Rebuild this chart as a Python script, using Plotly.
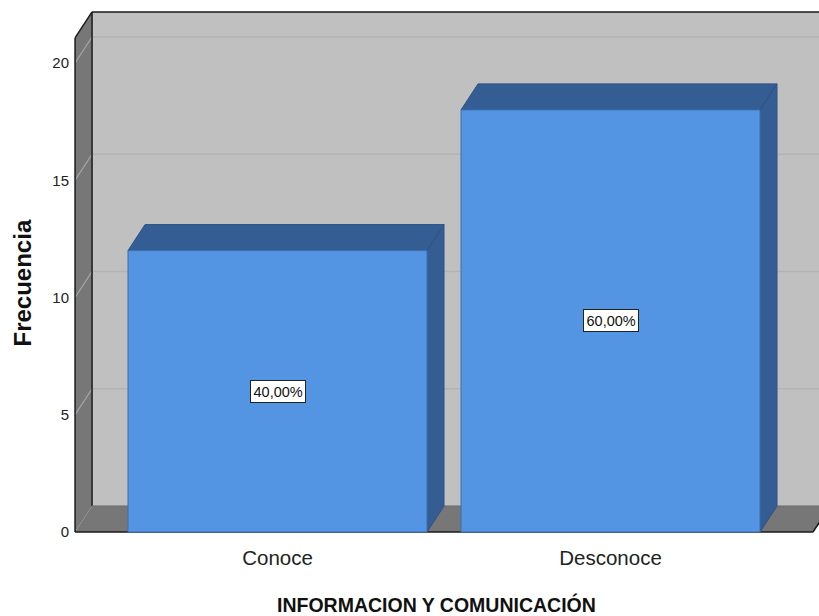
import plotly.graph_objects as go

# ---------------- data ----------------
categories = ["Conoce", "Desconoce"]
frecuencias = [12, 18]
y_ticks = [0, 5, 10, 15, 20]
x_title = "INFORMACION Y COMUNICACIÓN"
y_title = "Frecuencia"

total = sum(frecuencias)
pct_labels = [f"{v / total * 100:.2f}".replace(".", ",") + "%" for v in frecuencias]

# ---------------- geometry (pixels -> axis units) ----------------
W, H = 819, 616
ML, MR, MT, MB = 70, 0, 0, 80
PX_PER_CAT = 333.0
CAT0_PX = 277.5
ZERO_PX = 532
PX_PER_UNIT = 23.45

plot_h = H - MT - MB
x_range = [-(CAT0_PX - ML) / PX_PER_CAT, (W - MR - CAT0_PX) / PX_PER_CAT]
y_range = [-(MT + plot_h - ZERO_PX) / PX_PER_UNIT, (ZERO_PX - MT) / PX_PER_UNIT]

BAR_W = 299 / PX_PER_CAT
DX = 17 / PX_PER_CAT
DY = 26 / PX_PER_UNIT
PAD = 0.608
X0 = -PAD
X1 = len(categories) - 1 + PAD
YT = 21.07

WALL_SIDE = "#777777"
WALL_BACK = "#c0c0c0"
GRID_BACK = "#b3b3b3"
GRID_SIDE = "#a8a8a8"
BAR_FRONT = "#5394e3"
BAR_DARK = "#345e93"
BAR_EDGE = "#2c5283"
EDGE = "#1a1a1a"
NARROW = "Liberation Sans Narrow, Arial Narrow, Liberation Sans, Arial, sans-serif"


def poly(pts, fill, line_color=None, line_w=0, layer="below"):
    d = "M " + " L ".join(f"{x},{y}" for x, y in pts) + " Z"
    return dict(type="path", path=d, xref="x", yref="y", fillcolor=fill,
                line=dict(color=line_color or fill, width=line_w), layer=layer)


def seg(p, q, color, w=1, layer="below"):
    return dict(type="line", xref="x", yref="y", x0=p[0], y0=p[1], x1=q[0], y1=q[1],
                line=dict(color=color, width=w), layer=layer)


shapes = []
# back wall
shapes.append(poly([(X0 + DX, DY), (X1 + DX + 1, DY), (X1 + DX + 1, YT + DY), (X0 + DX, YT + DY)], WALL_BACK))
# left wall
shapes.append(poly([(X0, 0), (X0 + DX, DY), (X0 + DX, YT + DY), (X0, YT)], WALL_SIDE))
# floor
shapes.append(poly([(X0, 0), (X1, 0), (X1 + DX, DY), (X0 + DX, DY)], WALL_SIDE))
# grid lines
for t in y_ticks[1:]:
    shapes.append(seg((X0 + DX, t + DY), (X1 + DX + 1, t + DY), GRID_BACK, 1.5))
    shapes.append(seg((X0, t), (X0 + DX, t + DY), GRID_SIDE, 1.2))
# frame edges
shapes.append(seg((X0, 0), (X0, YT), EDGE, 1.5))
shapes.append(seg((X0, YT), (X0 + DX, YT + DY), EDGE, 1.5))
shapes.append(seg((X0 + DX, YT + DY), (X1 + DX + 1, YT + DY), EDGE, 1.5))
shapes.append(seg((X0 + DX, DY), (X0 + DX, YT + DY), EDGE, 1.5))
shapes.append(seg((X0, 0), (X1, 0), EDGE, 1.5))
shapes.append(seg((X1, 0), (X1 + DX, DY), EDGE, 1.5))
shapes.append(seg((X0 + DX, DY), (X1 + DX, DY), "#6a6a6a", 1))

# 3D bar parts (top and side)
for i, v in enumerate(frecuencias):
    l, r = i - BAR_W / 2, i + BAR_W / 2
    shapes.append(poly([(l, v), (l + DX, v + DY), (r + DX, v + DY), (r, v)], BAR_DARK, BAR_EDGE, 1))
    shapes.append(poly([(r, 0), (r + DX, DY), (r + DX, v + DY), (r, v)], BAR_DARK, BAR_EDGE, 1))

fig = go.Figure()
fig.add_trace(go.Bar(
    x=list(range(len(categories))), y=frecuencias, width=BAR_W,
    marker=dict(color=BAR_FRONT, line=dict(color="#3d6fae", width=1)),
    hoverinfo="skip", showlegend=False,
))

annotations = []
for i, (v, lab) in enumerate(zip(frecuencias, pct_labels)):
    annotations.append(dict(
        x=i, y=v / 2, xref="x", yref="y", text=lab, showarrow=False,
        font=dict(family=NARROW, size=14.5, color="#111"),
        bgcolor="white", bordercolor="#222", borderwidth=1, borderpad=2.5,
    ))
annotations.append(dict(
    x=(436.5 - ML) / (W - ML - MR), y=-(604 - (H - MB)) / plot_h, xref="paper", yref="paper",
    text=f"<b>{x_title}</b>", showarrow=False, xanchor="center", yanchor="middle",
    font=dict(family=NARROW, size=19.5, color="#111"),
))
annotations.append(dict(
    x=-(ML - 21.5) / (W - ML - MR), y=(H - MB - 283) / plot_h, xref="paper", yref="paper",
    text=f"<b>{y_title}</b>", showarrow=False, textangle=-90, xanchor="center", yanchor="middle",
    font=dict(family="Liberation Sans, Arial, sans-serif", size=24, color="#111"),
))

fig.update_layout(
    width=W, height=H,
    margin=dict(l=ML, r=MR, t=MT, b=MB, pad=0),
    paper_bgcolor="white", plot_bgcolor="white",
    shapes=shapes, annotations=annotations,
    xaxis=dict(
        range=x_range, tickmode="array", tickvals=list(range(len(categories))), ticktext=categories,
        showgrid=False, zeroline=False, showline=False, ticks="",
        tickfont=dict(family=NARROW, size=20.5, color="#222"),
        ticklabelstandoff=7, fixedrange=True,
    ),
    yaxis=dict(
        range=y_range, tickmode="array", tickvals=y_ticks,
        showgrid=False, zeroline=False, showline=False, ticks="",
        tickfont=dict(family=NARROW, size=15, color="#222"),
        ticklabelstandoff=0, fixedrange=True,
    ),
)

fig.write_html("out.html")
